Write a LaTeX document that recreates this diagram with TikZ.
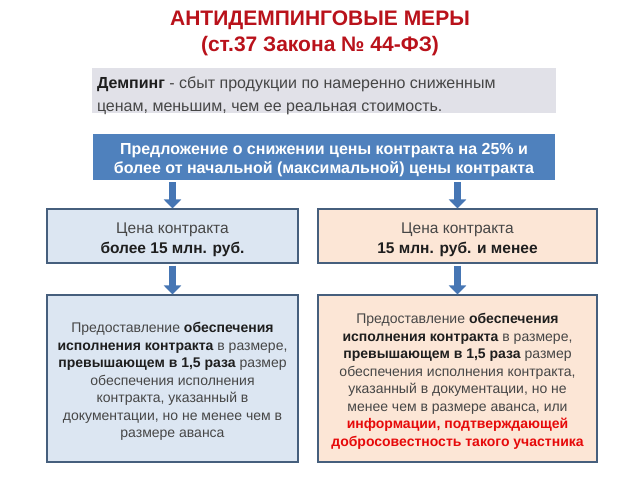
\documentclass[tikz,border=0pt]{standalone}
\usepackage{fontspec}
\setmainfont{Liberation Sans}
\usetikzlibrary{arrows.meta}
\usetikzlibrary{positioning}
\definecolor{titlered}{RGB}{185,18,27}
\definecolor{defgray}{RGB}{225,225,232}
\definecolor{reqblue}{RGB}{79,129,189}
\definecolor{arrowblue}{RGB}{70,118,180}
\definecolor{leftfill}{RGB}{220,230,242}
\definecolor{rightfill}{RGB}{252,230,214}
\definecolor{boxline}{RGB}{70,95,125}
\definecolor{bodygray}{RGB}{70,70,70}
\definecolor{boldgray}{RGB}{30,30,30}
\definecolor{alertred}{RGB}{230,10,10}
\newcommand{\bt}[1]{\textbf{\color{boldgray}#1}}

\begin{document}
\begin{tikzpicture}[x=1pt, y=-1pt,
	box/.style={draw=boxline, line width=1.1pt, inner sep=0pt},
	boxtext/.style={inner sep=0pt, align=center, text=bodygray},
	midtext/.style={font=\fontsize{15.5}{20}\selectfont},
	lowtext/.style={font=\fontsize{14}{17.5}\selectfont},
	blockarrow/.style={draw=arrowblue, line width=7pt, -{Triangle[width=17pt,length=9pt]}, shorten <=2pt}]
	\useasboundingbox (0,0) rectangle (640,480);
	\node[text=titlered, font=\bfseries\fontsize{21}{26}\selectfont, align=center] (title) at (320,33) {АНТИДЕМПИНГОВЫЕ МЕРЫ\\(ст.37 Закона № 44-ФЗ)};
	% boxes
	\node[fill=defgray, minimum width=464pt, minimum height=45pt, inner sep=0pt] (dump) at (324,90.5) {};
	\node[fill=reqblue, minimum width=462pt, minimum height=46pt, inner sep=0pt] (req) at (324,157) {};
	\node[box, fill=leftfill, minimum width=251pt, minimum height=54pt] (high) at (172.5,236) {};
	\node[box, fill=rightfill, minimum width=279pt, minimum height=54pt] (low) at (457.5,236) {};
	\node[box, fill=leftfill, minimum width=251pt, minimum height=167pt] (highsec) at (172.5,378.5) {};
	\node[box, fill=rightfill, minimum width=279pt, minimum height=167pt] (lowsec) at (457.5,378.5) {};
	% texts
	\node[boxtext, anchor=west, align=left, font=\fontsize{16}{23}\selectfont] (dumptext) at ([xshift=5pt, yshift=-5pt]dump.west) {\bt{Демпинг} - сбыт продукции по намеренно сниженным\\ценам, меньшим, чем ее реальная стоимость.};
	\node[boxtext, text=white, font=\bfseries\fontsize{16}{18.5}\selectfont] (reqtext) at ([yshift=-3pt]req.center) {Предложение о снижении цены контракта на 25\% и\\более от начальной (максимальной) цены контракта};
	\node[boxtext, midtext] (hightext) at ([yshift=-4pt]high.center) {Цена контракта\\\bt{более 15 млн. руб.}};
	\node[boxtext, midtext] (lowtext) at ([yshift=-4pt]low.center) {Цена контракта\\\bt{15 млн. руб. и менее}};
	\node[boxtext, lowtext] (highsectext) at ([yshift=-3pt]highsec.center) {Предоставление \bt{обеспечения}\\\bt{исполнения контракта} в размере,\\\bt{превышающем в 1,5 раза} размер\\обеспечения исполнения\\контракта, указанный в\\документации, но не менее чем в\\размере аванса};
	\node[boxtext, lowtext] (lowsectext) at ([yshift=-3pt]lowsec.center) {Предоставление \bt{обеспечения}\\\bt{исполнения контракта} в размере,\\\bt{превышающем в 1,5 раза} размер\\обеспечения исполнения контракта,\\указанный в документации, но не\\менее чем в размере аванса, или\\\textbf{\color{alertred}информации, подтверждающей}\\\textbf{\color{alertred}добросовестность такого участника}};
	% arrows
	\draw[blockarrow] (req.south -| high.north) -- (high.north);
	\draw[blockarrow] (req.south -| low.north) -- (low.north);
	\draw[blockarrow] (high.south) -- (highsec.north);
	\draw[blockarrow] (low.south) -- (lowsec.north);
\end{tikzpicture}
\end{document}
